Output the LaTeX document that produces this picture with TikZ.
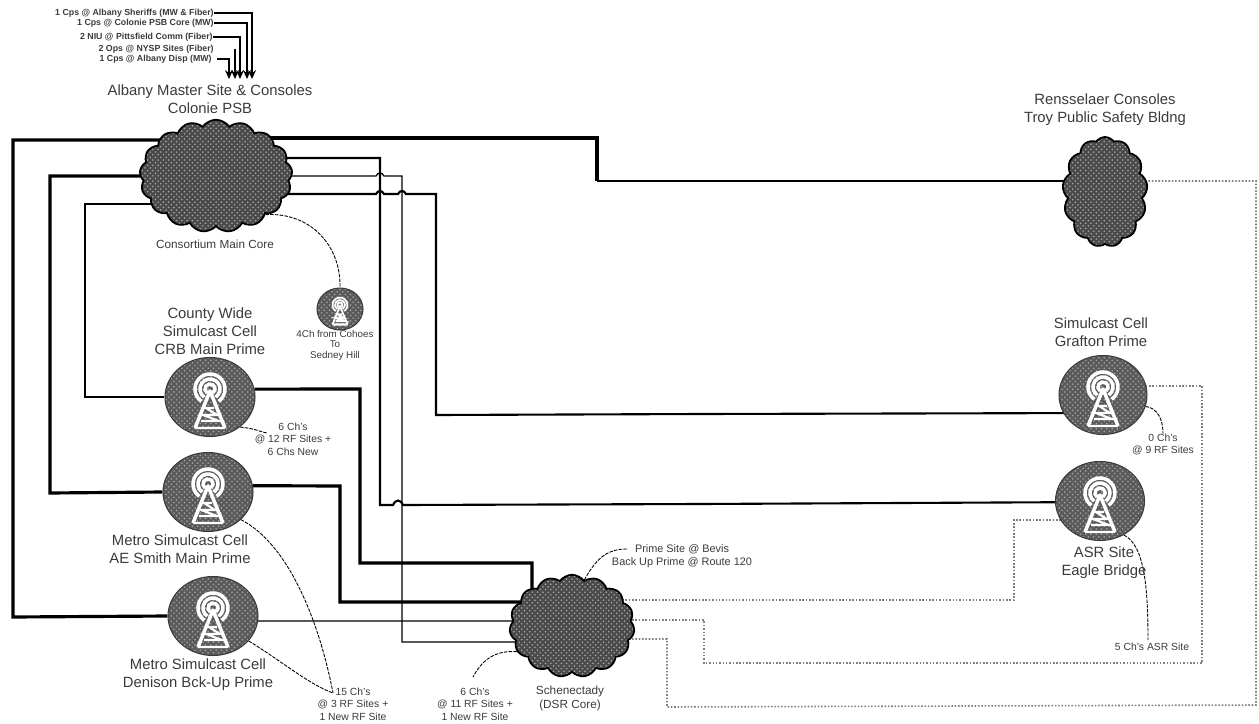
\documentclass[tikz,border=0pt]{standalone}
\usepackage{fontspec}
\setmainfont{Liberation Sans}
\usetikzlibrary{arrows.meta, backgrounds, calc, patterns, shapes.geometric, shapes.symbols}
\definecolor{inkgray}{HTML}{3A3A3A}
\definecolor{cloudgray}{HTML}{4A4A4A}
\definecolor{cellgray}{HTML}{5A5A5A}
\definecolor{speckgray}{HTML}{A8A8A8}
\definecolor{dotgray}{HTML}{808080}

\tikzset{
  sitelabel/.style={font=\fontsize{8.45}{10.2}\selectfont, text=inkgray, align=center, inner sep=0pt},
  notelabel/.style={font=\fontsize{5.9}{7}\selectfont, text=inkgray, align=center, inner sep=0pt},
  corelabel/.style={font=\fontsize{6.7}{8}\selectfont, text=inkgray, align=center, inner sep=0pt},
  feedlabel/.style={font=\fontsize{5}{6}\selectfont\bfseries, text=inkgray, anchor=east, inner sep=0pt},
  corecloud/.style={cloud, draw=black, line width=1pt, preaction={fill=cloudgray},
    pattern=crosshatch dots, pattern color=speckgray, inner sep=0pt},
  cellsite/.style={ellipse, draw=inkgray, line width=.6pt, preaction={fill=cellgray},
    pattern=crosshatch dots, pattern color=speckgray, inner sep=0pt,
    minimum width=1.8cm, minimum height=1.58cm},
  trunkline/.style={black, line width=1.8pt},
  midline/.style={black, line width=1.2pt},
  thinline/.style={black, line width=.7pt},
  dotline/.style={dotgray, line width=.9pt, densely dotted},
  calloutline/.style={black, line width=.5pt, dash pattern=on 2pt off .7pt},
  feedline/.style={black, line width=.8pt, -{Stealth[length=5pt, width=4.5pt]}},
  towermark/.pic={
    \draw[white] ([shift={(125:5)}]0,-8) arc[start angle=125, end angle=415, radius=5];
    \draw[white] ([shift={(125:10)}]0,-8) arc[start angle=125, end angle=415, radius=10];
    \draw[white] ([shift={(125:15)}]0,-8) arc[start angle=125, end angle=415, radius=15];
    \draw[white, line join=round] (-15,31) -- (0,-6) -- (15,31);
    \draw[white, line width=1.2pt] (-15,31) -- (15,31) (-9,24) -- (9,24) -- (-7,18) -- (7,18) -- (-4,11) -- (4,11);
  },
}

\begin{document}
\begin{tikzpicture}[x=0.02cm, y=-0.02cm]
\useasboundingbox (0,0) rectangle (1259,724);

% Cores
\node[corecloud, cloud puffs=17, cloud puff arc=110, aspect=1.4, minimum width=3.05cm, minimum height=2.25cm] (albanycore) at (216,176) {};
\node[corecloud, cloud puffs=13, cloud puff arc=110, aspect=.8, minimum width=1.7cm, minimum height=2.2cm] (troycore) at (1105,192) {};
\node[corecloud, cloud puffs=15, cloud puff arc=110, aspect=1.2, minimum width=2.5cm, minimum height=2.05cm] (schenectadycore) at (572,626) {};

% Cell sites
\node[cellsite] (crbcell) at (210,397) {};
\node[cellsite] (aesmithcell) at (208,492) {};
\node[cellsite] (denisoncell) at (213,616) {};
\node[cellsite, minimum width=1.76cm] (graftoncell) at (1103,395) {};
\node[cellsite, minimum width=1.78cm] (asrcell) at (1100,501) {};
\node[cellsite, minimum width=.92cm, minimum height=.84cm] (cohoescell) at (340,309) {};
\foreach \cell in {crbcell,aesmithcell,denisoncell,graftoncell,asrcell}
  \pic[line width=2pt] at (\cell) {towermark};
\pic[scale=.5, line width=1pt] at (cohoescell) {towermark};

% Feeds into the master site
\node[feedlabel] (sheriffsfeed) at (214,13) {1 Cps @ Albany Sheriffs (MW \& Fiber)};
\node[feedlabel] (coloniefeed) at (214,23) {1 Cps @ Colonie PSB Core (MW)};
\node[feedlabel] (pittsfieldfeed) at (213,37) {2 NIU @ Pittsfield Comm (Fiber)};
\node[feedlabel] (nyspfeed) at (214,49) {2 Ops @ NYSP Sites (Fiber)};
\node[feedlabel] (dispfeed) at (212,59) {1 Cps @ Albany Disp (MW)};
\coordinate (sheriffsin) at (252,79);
\coordinate (colonieIn) at (247,79);
\coordinate (pittsfieldin) at (240,79);
\coordinate (nyspin) at (235,79);
\coordinate (dispin) at (229,79);
\coordinate (nysptop) at (235,49);
\draw[feedline] (sheriffsfeed.east) -- ++(3,0) -| (sheriffsin);
\draw[feedline] (coloniefeed.east) -- ++(3,0) -| (colonieIn);
\draw[feedline] (pittsfieldfeed.east) -- ++(3,0) -| (pittsfieldin);
\draw[feedline] (nysptop) -- (nyspin);
\draw[feedline] (dispfeed.east) ++(5,0) -| (dispin);

% Labels
\node[sitelabel] (albanylabel) at (210,99.5) {Albany Master Site \& Consoles\\Colonie PSB};
\node[sitelabel] (troylabel) at (1105,109.5) {Rensselaer Consoles\\Troy Public Safety Bldng};
\node[corelabel] (mainlabel) at (215,244) {Consortium Main Core};
\node[notelabel, font=\fontsize{5.6}{6}\selectfont] (cohoesnote) at (335,345) {4Ch from Cohoes\\To\\Sedney Hill};
\node[sitelabel] (crblabel) at (210,331) {County Wide\\Simulcast Cell\\CRB Main Prime};
\node[notelabel] (crbnote) at (293,439) {6 Ch's\\@ 12 RF Sites +\\6 Chs New};
\node[sitelabel] (aesmithlabel) at (180,549.5) {Metro Simulcast Cell\\AE Smith Main Prime};
\node[sitelabel] (denisonlabel) at (198,675) {Metro Simulcast Cell\\Denison Bck-Up Prime};
\node[notelabel] (metronote) at (353,704) {15 Ch's\\@ 3 RF Sites +\\1 New RF Site};
\node[notelabel] (schenectadynote) at (475,704) {6 Ch's\\@ 11 RF Sites +\\1 New RF Site};
\node[corelabel] (schenectadylabel) at (570,698) {Schenectady\\(DSR Core)};
\node[notelabel, font=\fontsize{6.2}{7.4}\selectfont] (primenote) at (682,556.5) {Prime Site @ Bevis\\Back Up Prime @ Route 120};
\node[sitelabel] (graftonlabel) at (1101,332.5) {Simulcast Cell\\Grafton Prime};
\node[notelabel] (graftonnote) at (1163,444.5) {0 Ch's\\@ 9 RF Sites};
\node[sitelabel] (asrlabel) at (1104,562.5) {ASR Site\\Eagle Bridge};
\node[notelabel] (asrnote) at (1152,647) {5 Ch's ASR Site};

\coordinate (crbtip) at (267,433);
\coordinate (metrotip) at (333,693);
\coordinate (schenectadytip) at (473,677);
\coordinate (primetip) at (627,549);
\coordinate (asrtip) at (1148,640);
\coordinate (troybend) at (597,181);

\begin{scope}[on background layer]
% Heavy links on the left
\draw[trunkline] ($(albanycore)+(-50,-36)$) -- (13,140) -- (13,617) -- (denisoncell.west);
\draw[trunkline] (albanycore.center) -- (50,176) -- (50,493) -- (aesmithcell.west);
\draw[midline] ($(albanycore)+(-40,28)$) -- (85,204) -- (85,397) -- (crbcell.west);

% Links on the right of the main core
\draw[trunkline] ($(albanycore)+(50,-38)$) -- (597,138) -- (troybend);
\draw[midline] (troybend) -- ($(troycore)+(0,-11)$);
\draw[midline] ($(albanycore)+(50,-18)$) -- (380,158) -- (380,505) -- (393,505)
  .. controls (396,499) and (400,499) .. (403,505) -- (700,504) -- ($(asrcell)+(0,1)$);
\draw[thinline] ($(albanycore)+(50,0)$) -- (376,176) .. controls (378,172) and (382,172) .. (384,176)
  -- (402,176) -- (402,642) -- ($(schenectadycore)+(0,16)$);
\draw[midline] ($(albanycore)+(40,18)$) -- (376,194) .. controls (378,190) and (382,190) .. (384,194)
  -- (398,194) .. controls (400,190) and (404,190) .. (406,194) -- (436,194) -- (436,415) -- (700,414) -- ($(graftoncell)+(0,18)$);

% Links down to Schenectady
\draw[trunkline] (crbcell.10) -- (360,389) -- (360,563) -- (532,563) -- (532,600);
\draw[trunkline] (aesmithcell.8) -- (340,486) -- (340,602) -- ($(schenectadycore)+(0,-24)$);
\draw[thinline] (denisoncell.-6) -- (240,621) -- ($(schenectadycore)+(0,-5)$);

% Dotted links out of Schenectady
\draw[dotline] ($(schenectadycore)+(30,-26)$) -- (1014,600) -- (1014,520) -- ($(asrcell)+(0,19)$);
\draw[dotline] ($(schenectadycore)+(30,-6)$) -- (704,620) -- (704,663) -- (1202,663) -- (1202,386) -- ($(graftoncell)+(0,-9)$);
\draw[dotline] ($(schenectadycore)+(30,13)$) -- (667,639) -- (667,707) -- (1256,705) -- (1256,181) -- ($(troycore)+(0,-11)$);

% Callouts
\draw[calloutline] (albanycore.-38) .. controls (310,212) and (341,245) .. (cohoescell.north);
\draw[calloutline] (crbcell.-45) .. controls (252,428) and (258,431) .. (crbtip);
\draw[calloutline] (aesmithcell.-40) .. controls (290,545) and (320,625) .. (metrotip);
\draw[calloutline] (denisoncell.-35) .. controls (280,660) and (310,685) .. (metrotip);
\draw[calloutline] (schenectadycore.205) .. controls (495,650) and (482,660) .. (schenectadytip);
\draw[calloutline] (schenectadycore.75) .. controls (598,555) and (610,549) .. (primetip);
\draw[calloutline] (graftoncell.-15) .. controls (1158,408) and (1163,420) .. (graftonnote.north);
\draw[calloutline] (asrcell.-55) .. controls (1145,545) and (1148,590) .. (asrtip);
\end{scope}
\end{tikzpicture}
\end{document}
